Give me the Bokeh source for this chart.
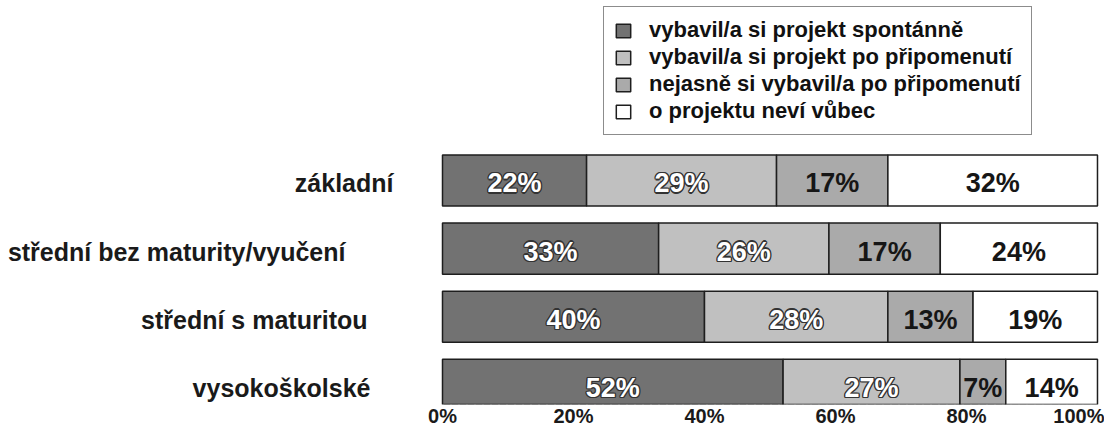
from bokeh.plotting import figure
from bokeh.models import (ColumnDataSource, Range1d, Legend, LegendItem,
                          FixedTicker, PrintfTickFormatter)
from bokeh.core.properties import value
from bokeh.embed import file_html
from bokeh.resources import INLINE

# ---------------- data ----------------
categories = ["základní", "střední bez maturity/vyučení",
              "střední s maturitou", "vysokoškolské"]
series_names = ["vybavil/a si projekt spontánně",
                "vybavil/a si projekt po připomenutí",
                "nejasně si vybavil/a po připomenutí",
                "o projektu neví vůbec"]
spontanne = [22, 33, 40, 52]
po_pripomenuti = [29, 26, 28, 27]
nejasne = [17, 17, 13, 7]
nevi = [32, 24, 19, 14]
x_ticks = [0, 20, 40, 60, 80, 100]

# ---------------- style ----------------
FONT = "Liberation Sans"
fills = ["#727272", "#c0c0c0", "#aaaaaa", "#ffffff"]
label_white = [True, True, False, False]
cat_label_offsets = [-49, -97, -75, -72]   # screen px, right edge of labels

series = [spontanne, po_pripomenuti, nejasne, nevi]
n = len(categories)
ypos = [n - 0.5 - i for i in range(n)]

p = figure(width=1104, height=429, output_backend="svg", toolbar_location=None,
           x_range=Range1d(-67.48, 101.07), y_range=Range1d(0.212, 6.142),
           y_axis_location=None,
           min_border_left=0, min_border_right=0, min_border_top=0,
           min_border_bottom=0)
p.outline_line_color = None
p.grid.grid_line_color = None
p.background_fill_color = "white"

lefts = [0] * n
renderers = []
for k, (vals, fc) in enumerate(zip(series, fills)):
    rights = [l + v for l, v in zip(lefts, vals)]
    src = ColumnDataSource(dict(
        y=ypos, left=lefts, right=rights,
        mid=[(l + r) / 2 for l, r in zip(lefts, rights)],
        txt=[f"{v}%" for v in vals]))
    r = p.hbar(y="y", left="left", right="right", height=0.75, source=src,
               fill_color=fc, line_color="#1e1e1e", line_width=1.5)
    renderers.append(r)
    common = dict(x="mid", y="y", text="txt", source=src,
                  text_font=value(FONT), text_font_size="27px",
                  text_font_style="bold", text_align="center",
                  text_baseline="middle")
    if label_white[k]:
        for dx, dy in [(-1.3, 0), (1.3, 0), (0, -1.3), (0, 1.3),
                       (-1, -1), (1, -1), (-1, 1), (1, 1)]:
            p.text(x_offset=dx, y_offset=3 + dy, text_color="#333333", **common)
        p.text(x_offset=0, y_offset=3, text_color="white", **common)
    else:
        p.text(x_offset=0, y_offset=3, text_color="#161616", **common)
    lefts = rights

# category labels
cat_src = ColumnDataSource(dict(x=[0] * n, y=ypos, txt=categories,
                                xo=cat_label_offsets))
p.text(x="x", y="y", text="txt", x_offset="xo", y_offset=3, source=cat_src,
       text_font=value(FONT), text_font_size="25px", text_font_style="bold",
       text_align="right", text_baseline="middle", text_color="#1a1a1a")

# legend
legend = Legend(items=[LegendItem(label=nm, renderers=[r])
                       for nm, r in zip(series_names, renderers)],
                location=(603, 269), margin=0, padding=10,
                glyph_width=18, glyph_height=17, label_height=22, spacing=1,
                label_standoff=17, label_text_font=FONT,
                label_text_font_size="22px", label_text_font_style="bold",
                label_text_color="#111111",
                border_line_color="#1a1a1a", border_line_width=1.5,
                background_fill_color="white", background_fill_alpha=1.0)
p.add_layout(legend)

# x axis
ax = p.xaxis[0]
ax.ticker = FixedTicker(ticks=x_ticks)
ax.formatter = PrintfTickFormatter(format="%d%%")
ax.bounds = (0, 100)
ax.axis_line_color = "#9a9a9a"
ax.axis_line_dash = "1 7"
ax.major_tick_line_color = None
ax.minor_tick_line_color = None
ax.major_tick_out = 0
ax.major_label_standoff = 0
ax.major_label_text_font = FONT
ax.major_label_text_font_size = "20px"
ax.major_label_text_font_style = "bold"
ax.major_label_text_color = "#1a1a1a"

open("out.html", "w").write(file_html(p, INLINE))
